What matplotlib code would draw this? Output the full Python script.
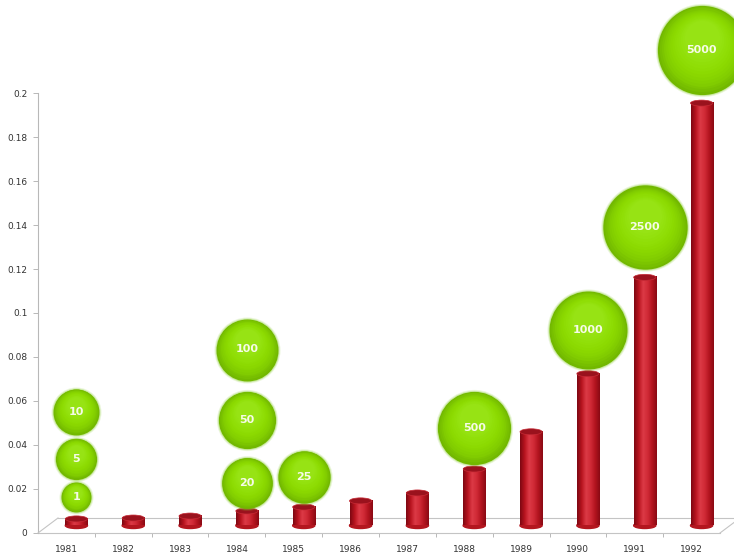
import numpy as np
import matplotlib
matplotlib.use("Agg")
import matplotlib.pyplot as plt
from matplotlib import transforms
from matplotlib.patches import Ellipse
from matplotlib.colors import LinearSegmentedColormap

# ---- data ----
years = ["1981", "1982", "1983", "1984", "1985", "1986",
         "1987", "1988", "1989", "1990", "1991", "1992"]
bar_values = [0.003, 0.0034, 0.0043, 0.0066, 0.0084, 0.0112,
              0.0148, 0.0257, 0.0426, 0.069, 0.1128, 0.192]

bubble_year_idx = [0, 0, 0, 3, 3, 3, 4, 7, 9, 10, 11]
bubble_levels = [0.013, 0.0303, 0.0517, 0.0194, 0.048, 0.080,
                 0.0221, 0.0444, 0.089, 0.1355, 0.216]
bubble_labels = [1, 5, 10, 20, 50, 100, 25, 500, 1000, 2500, 5000]

y_ticks = [0, 0.02, 0.04, 0.06, 0.08, 0.1, 0.12, 0.14, 0.16, 0.18, 0.2]

# ---- figure ----
W, H = 734, 554
fig = plt.figure(figsize=(W / 100, H / 100), dpi=100)
fig.patch.set_facecolor("white")
ax = fig.add_axes([38 / W, (H - 533) / H, (720 - 38) / W, (533 - 93) / H])
ax.set_xlim(-0.5, len(years) - 0.5)
ax.set_ylim(0, 0.2)
ax.set_facecolor("none")

for s in ("top", "right", "bottom"):
    ax.spines[s].set_visible(False)
ax.spines["left"].set_color("#b8b8b8")
ax.spines["left"].set_linewidth(0.8)

ax.set_yticks(y_ticks)
ax.set_yticklabels([f"{v:g}" for v in y_ticks])
ax.tick_params(axis="y", length=3.5, width=0.7, color="#b8b8b8",
               labelsize=6.5, labelcolor="#333333", pad=4)
ax.set_xticks(range(len(years)))
ax.set_xticklabels(years)
ax.tick_params(axis="x", length=0, labelsize=6.5, labelcolor="#333333", pad=9)
ax.set_xticks(np.arange(len(years) - 1) + 0.5, minor=True)
ax.tick_params(axis="x", which="minor", length=3, width=0.7,
               color="#b8b8b8", direction="out")
for lab in ax.get_xticklabels() + ax.get_yticklabels():
    lab.set_fontfamily("DejaVu Sans")

# depth shift for the 3-D floor
depth_dx, depth_dy = 20, 15
back = transforms.offset_copy(ax.transData, fig=fig, x=depth_dx, y=depth_dy, units="dots")
mid = transforms.offset_copy(ax.transData, fig=fig, x=depth_dx / 2, y=depth_dy / 2, units="dots")

# floor: front edge, back edge and the two side edges
floor_col = "#c4c4c4"
x0, x1 = -0.5, len(years) - 0.5
ax.plot([x0, x1], [0, 0], color=floor_col, lw=0.8, clip_on=False)
ax.plot([x0, x1 + 0.6], [0, 0], color=floor_col, lw=0.8, clip_on=False, transform=back)
for xe in (x0, x1):
    p_front = ax.transData.transform((xe, 0))
    p_back = back.transform((xe, 0))
    fig.add_artist(plt.Line2D([p_front[0] / W, p_back[0] / W],
                              [p_front[1] / H, p_back[1] / H],
                              color=floor_col, lw=0.8))

# ---- cylinders ----
bar_w = 0.39
ell_h = 6 / 2200
cyl_cmap = LinearSegmentedColormap.from_list(
    "cyl", ["#7e0812", "#b8141f", "#dc3a46", "#d02a36", "#b3141f", "#8a0a14"])
grad = np.linspace(0, 1, 64).reshape(1, -1)
for i, v in enumerate(bar_values):
    left = i - bar_w / 2
    ax.add_patch(Ellipse((i, 0), bar_w, ell_h, color="#b3161f",
                         transform=mid, zorder=2, clip_on=False))
    ax.imshow(grad, cmap=cyl_cmap, extent=[left, left + bar_w, 0, v],
              transform=mid, aspect="auto", zorder=2.1, clip_on=False,
              interpolation="bilinear")
    ax.add_patch(Ellipse((i, v), bar_w, ell_h, facecolor="#9a121d",
                         edgecolor="#c72a35", lw=0.5,
                         transform=mid, zorder=2.2, clip_on=False))
ax.set_xlim(-0.5, len(years) - 0.5)
ax.set_ylim(0, 0.2)
ax.set_aspect("auto")

# ---- bubbles ----
def bubble_radius(val):
    return 15 + 8 * np.log10(val)

shade = LinearSegmentedColormap.from_list(
    "ball", ["#72b800", "#82ce00", "#8bd900", "#91df08", "#97e314"])
n_layers = 14
for k, val, y in zip(bubble_year_idx, bubble_labels, bubble_levels):
    r = bubble_radius(val)
    # soft edge
    for g, a in ((2.0, 0.18), (1.0, 0.35)):
        ax.scatter([k], [y], s=(2 * (r + g) * 0.72) ** 2, color="#8fcf3a",
                   alpha=a, lw=0, transform=mid, zorder=3, clip_on=False)
    for j in range(n_layers):
        f = j / (n_layers - 1)
        rr = r * (1 - 0.6 * f)
        off = transforms.offset_copy(mid, fig=fig, x=0, y=(r - rr) * 0.45, units="dots")
        ax.scatter([k], [y], s=(2 * rr * 0.72) ** 2, color=shade(f), lw=0,
                   transform=off, zorder=3.1 + 0.01 * j, clip_on=False)
    ax.text(k, y, str(val), transform=mid, ha="center", va="center",
            color="#f6fbe8", fontsize=8, fontweight="bold", zorder=4,
            fontfamily="DejaVu Sans", clip_on=False)

fig.savefig("out.png", dpi=100, facecolor="white")
